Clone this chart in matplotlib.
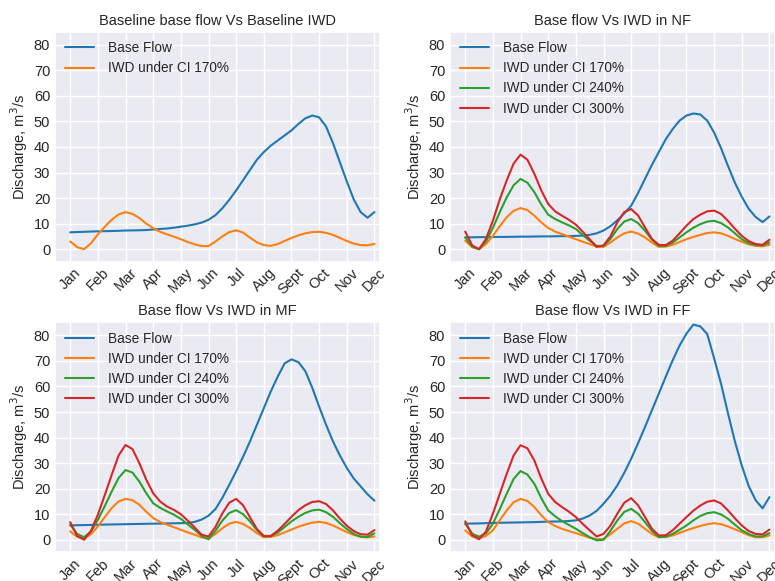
import numpy as np
import matplotlib
matplotlib.use("Agg")
import matplotlib.pyplot as plt
import seaborn as sns

months = ["Jan", "Feb", "Mar", "Apr", "May", "Jun", "Jul", "Aug", "Sept", "Oct", "Nov", "Dec"]
x_q = np.arange(0, 11.01, 0.25)  # quarter-month positions (Jan=0 ... Dec=11)

# ---- Panel 1: Baseline ----
base_p1 = [6.6, 6.7, 6.8, 6.9, 7.0, 7.05, 7.1, 7.2,
           7.3, 7.35, 7.4, 7.5, 7.7, 7.9, 8.1, 8.4,
           8.8, 9.2, 9.7, 10.4, 11.5, 13.3, 16.0, 19.3,
           23.0, 27.0, 31.0, 35.0, 38.0, 40.5, 42.5, 44.5,
           46.5, 49.0, 51.2, 52.3, 51.6, 48.0, 41.5, 34.0,
           26.5, 19.5, 14.5, 12.3, 14.5]
iwd170_p1 = [3.0, 0.8, 0.0, 2.3, 5.8, 8.8, 11.5, 13.6,
             14.5, 13.8, 12.2, 10.0, 8.2, 6.8, 5.8, 4.9,
             3.9, 2.8, 1.9, 1.2, 1.2, 3.0, 5.0, 6.7,
             7.4, 6.5, 4.5, 2.7, 1.6, 1.3, 2.0, 3.2,
             4.4, 5.4, 6.2, 6.7, 6.8, 6.4, 5.6, 4.4,
             3.2, 2.2, 1.6, 1.5, 2.1]

# ---- Panel 2: NF ----
base_p2 = [4.6, 4.65, 4.7, 4.7, 4.75, 4.8, 4.8, 4.85,
           4.9, 4.9, 4.95, 5.0, 5.0, 5.05, 5.1, 5.1,
           5.2, 5.3, 5.6, 6.2, 7.3, 9.0, 11.3, 14.0,
           17.0, 22.0, 27.5, 33.0, 38.0, 43.0, 47.0, 50.3,
           52.3, 53.1, 52.7, 50.3, 45.6, 39.5, 32.6, 26.0,
           20.5, 15.8, 12.6, 10.6, 12.8]
iwd170_p2 = [3.3, 0.8, 0.0, 2.0, 5.2, 9.0, 12.5, 15.0,
             16.1, 15.3, 13.1, 10.5, 8.3, 6.9, 5.9, 4.9,
             3.9, 2.9, 2.0, 1.0, 0.9, 2.6, 4.6, 6.2,
             6.9, 6.1, 4.6, 2.6, 0.9, 1.0, 1.7, 2.8,
             3.9, 4.8, 5.6, 6.3, 6.6, 6.2, 5.2, 4.0,
             2.9, 1.9, 1.3, 1.1, 1.7]
iwd240_p2 = [4.6, 1.0, 0.0, 3.0, 8.3, 14.5, 20.3, 25.0,
             27.5, 26.0, 22.3, 17.5, 13.5, 11.8, 10.5, 9.3,
             7.9, 5.5, 3.3, 1.3, 1.2, 4.0, 7.9, 10.8,
             11.8, 10.2, 7.2, 3.8, 1.3, 1.3, 2.6, 4.6,
             6.6, 8.4, 9.8, 10.8, 11.1, 10.2, 8.5, 6.2,
             3.9, 2.4, 1.6, 1.5, 2.6]
iwd300_p2 = [6.9, 1.5, 0.0, 4.0, 11.1, 19.5, 26.9, 33.5,
             37.0, 35.0, 29.5, 23.0, 17.7, 14.8, 13.1, 11.5,
             9.6, 6.8, 3.9, 0.9, 1.5, 5.0, 10.5, 14.5,
             15.7, 13.2, 8.5, 4.0, 1.7, 1.6, 3.3, 6.2,
             9.2, 11.8, 13.5, 14.8, 15.1, 13.8, 11.1, 8.0,
             5.2, 3.2, 2.0, 1.7, 3.7]

# ---- Panel 3: MF ----
base_p3 = [5.6, 5.7, 5.75, 5.8, 5.9, 5.95, 6.0, 6.05,
           6.1, 6.15, 6.2, 6.25, 6.3, 6.35, 6.4, 6.45,
           6.5, 6.6, 7.0, 7.9, 9.4, 12.0, 16.4, 21.5,
           26.8, 32.5, 38.5, 45.0, 51.5, 58.0, 63.8, 69.0,
           70.6, 69.5, 66.0, 59.5, 52.1, 45.0, 38.5, 33.0,
           28.1, 24.0, 20.9, 17.8, 15.3]
iwd170_p3 = [3.3, 1.2, 0.5, 2.2, 5.2, 8.9, 12.4, 15.0,
             16.0, 15.5, 13.7, 11.0, 8.5, 7.0, 5.9, 4.9,
             3.9, 2.9, 2.0, 0.9, 0.5, 2.3, 4.5, 6.3,
             7.0, 6.2, 4.6, 2.6, 1.0, 1.1, 1.8, 2.9,
             4.0, 5.1, 6.0, 6.7, 7.0, 6.6, 5.6, 4.3,
             3.0, 1.9, 1.2, 0.9, 1.3]
iwd240_p3 = [5.9, 2.3, 1.0, 3.2, 7.8, 13.2, 18.9, 24.2,
             27.3, 26.3, 22.8, 18.2, 14.3, 12.5, 11.1, 9.8,
             8.2, 6.0, 3.9, 1.5, 0.2, 3.5, 7.5, 10.5,
             11.6, 10.0, 7.2, 3.8, 1.3, 1.4, 2.8, 5.0,
             7.2, 9.0, 10.5, 11.5, 11.8, 10.8, 9.0, 6.5,
             4.2, 2.3, 1.2, 1.1, 2.5]
iwd300_p3 = [6.9, 1.5, 0.0, 3.5, 9.8, 17.5, 25.4, 33.0,
             37.1, 35.5, 30.0, 23.5, 18.2, 15.0, 13.0, 11.7,
             10.0, 7.5, 4.8, 2.0, 1.3, 5.0, 10.3, 14.5,
             16.0, 13.5, 8.8, 4.2, 1.5, 1.5, 3.5, 6.2,
             9.0, 11.6, 13.5, 14.8, 15.1, 14.0, 11.5, 8.3,
             5.5, 3.4, 2.2, 2.0, 3.8]

# ---- Panel 4: FF ----
base_p4 = [6.3, 6.35, 6.4, 6.5, 6.6, 6.65, 6.7, 6.75,
           6.8, 6.85, 6.9, 7.0, 7.1, 7.15, 7.2, 7.35,
           7.6, 8.3, 9.5, 11.3, 14.1, 17.3, 21.3, 26.2,
           31.7, 37.8, 44.1, 50.7, 57.2, 63.8, 70.2, 76.0,
           80.7, 84.2, 83.5, 80.5, 71.0, 61.0, 49.5, 38.5,
           29.0, 21.0, 15.5, 12.3, 16.7]
iwd170_p4 = [3.7, 1.3, 0.6, 1.5, 3.7, 7.6, 11.5, 14.7,
             16.0, 15.2, 12.8, 9.6, 6.9, 5.4, 4.3, 3.4,
             2.6, 1.7, 0.8, 0.2, 0.3, 2.2, 4.3, 6.4,
             7.3, 6.3, 4.3, 2.3, 1.0, 1.1, 1.7, 2.7,
             3.7, 4.6, 5.4, 6.1, 6.5, 6.1, 5.2, 4.1,
             3.0, 1.8, 1.0, 1.0, 1.7]
iwd240_p4 = [6.3, 2.4, 1.2, 2.5, 6.3, 12.0, 18.0, 23.8,
             26.9, 25.5, 21.9, 16.3, 11.5, 9.2, 7.3, 5.8,
             4.3, 2.6, 1.0, -0.2, 0.0, 3.5, 7.6, 10.9,
             12.1, 10.2, 6.9, 3.5, 1.0, 1.2, 2.3, 3.9,
             5.6, 7.6, 9.3, 10.4, 10.8, 9.9, 8.2, 5.9,
             3.7, 2.2, 1.3, 1.3, 2.6]
iwd300_p4 = [7.2, 1.8, 0.2, 3.2, 10.2, 18.0, 25.8, 33.0,
             37.0, 35.8, 31.0, 24.0, 18.0, 14.8, 12.8, 11.0,
             8.9, 6.2, 3.7, 1.3, 2.3, 5.5, 10.2, 14.5,
             16.3, 13.5, 8.9, 4.3, 1.7, 1.8, 3.7, 6.3,
             8.9, 11.4, 13.4, 14.9, 15.4, 14.2, 11.5, 8.4,
             5.6, 3.4, 2.3, 2.1, 4.0]

titles = ["Baseline base flow Vs Baseline IWD", "Base flow Vs IWD in NF",
          "Base flow Vs IWD in MF", "Base flow Vs IWD in FF"]

sns.set_theme(style="darkgrid")
plt.rcParams["font.family"] = ["Liberation Sans", "DejaVu Sans"]

W, H = 775, 581
fig = plt.figure(figsize=(W / 100, H / 100), dpi=100)

def axes_px(left, top, width, height):
    return fig.add_axes([left / W, (H - top - height) / H, width / W, height / H])

positions = [(55, 31.7), (450, 31.7), (55, 322.3), (450, 322.3)]
axs = [axes_px(l, t, 325, 230) for (l, t) in positions]

c_blue, c_orange, c_green, c_red = "#1f77b4", "#ff7f0e", "#2ca02c", "#d62728"

panels = [
    (base_p1, [(iwd170_p1, c_orange, "IWD under CI 170%")]),
    (base_p2, [(iwd170_p2, c_orange, "IWD under CI 170%"),
               (iwd240_p2, c_green, "IWD under CI 240%"),
               (iwd300_p2, c_red, "IWD under CI 300%")]),
    (base_p3, [(iwd170_p3, c_orange, "IWD under CI 170%"),
               (iwd240_p3, c_green, "IWD under CI 240%"),
               (iwd300_p3, c_red, "IWD under CI 300%")]),
    (base_p4, [(iwd170_p4, c_orange, "IWD under CI 170%"),
               (iwd240_p4, c_green, "IWD under CI 240%"),
               (iwd300_p4, c_red, "IWD under CI 300%")]),
]

for i, ax in enumerate(axs):
    base, iwds = panels[i]
    ax.plot(x_q, base, color=c_blue, lw=1.5, label="Base Flow", solid_joinstyle="round")
    for vals, col, lab in iwds:
        ax.plot(x_q, vals, color=col, lw=1.5, label=lab, solid_joinstyle="round")
    ax.set_xlim(-0.55, 11.2)
    ax.set_ylim(-4.9, 85.1)
    ax.set_yticks(np.arange(0, 81, 10))
    ax.set_xticks(np.arange(12))
    ax.set_xticklabels(months, rotation=45, fontsize=10.5)
    ax.tick_params(axis="y", labelsize=10.5, length=0, pad=3.5)
    ax.tick_params(axis="x", length=0, pad=3)
    ax.set_title(titles[i], fontsize=10.5, pad=5)
    ax.set_ylabel("Discharge, m$^3$/s", fontsize=10.5, labelpad=3)
    ax.legend(loc="upper left", frameon=False, fontsize=9.8, handlelength=2.2,
              handletextpad=1.0, borderaxespad=0.3, labelspacing=0.45)

fig.savefig("out.png", dpi=100)
